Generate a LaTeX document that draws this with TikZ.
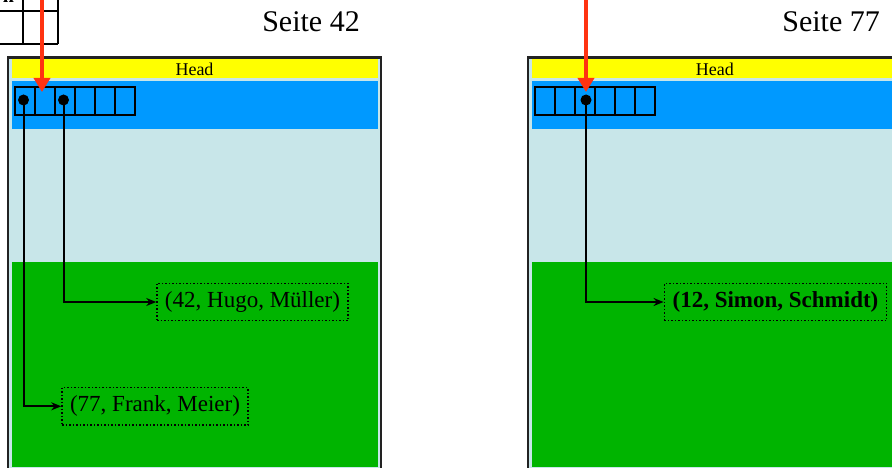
\documentclass[tikz,border=0pt]{standalone}
\usepackage{fontspec}
\setmainfont{Liberation Serif}
\usetikzlibrary{arrows.meta}
\definecolor{headyellow}{RGB}{255,255,0}
\definecolor{slotblue}{RGB}{0,153,255}
\definecolor{pagebg}{RGB}{200,230,233}
\definecolor{datagreen}{RGB}{0,180,0}
\definecolor{ptrred}{RGB}{255,51,17}
\definecolor{framegray}{RGB}{34,34,34}
\begin{document}
\begin{tikzpicture}[x=1pt,y=-1pt,
  pageframe/.style={fill=pagebg,draw=framegray,line width=2.2pt},
  slot/.style={draw=black,line width=2pt,minimum width=20pt,minimum height=28.6pt,inner sep=0,outer sep=0},
  dotn/.style={circle,fill=black,inner sep=0,minimum size=11pt},
  record/.style={draw=black,dotted,line width=1.5pt,inner sep=0,minimum height=37.4pt,font=\fontsize{23}{27}\selectfont},
  ptr/.style={line width=2pt,-{Stealth[length=10pt,width=8pt]}},
  redptr/.style={draw=ptrred,line width=3.6pt,-{Triangle[length=14pt,width=16pt]}},
  title/.style={font=\fontsize{30}{36}\selectfont,anchor=base east,inner sep=0},
  headlbl/.style={font=\fontsize{18}{22}\selectfont,anchor=base,inner sep=0},
  tabline/.style={line width=2pt,draw=black}
]
\useasboundingbox (0,0) rectangle (892,468);
\clip (0,0) rectangle (892,468);

% top-left table fragment
\node[font=\fontsize{20}{24}\selectfont\bfseries,anchor=base,inner sep=0] (frag) at (8.5,3) {n};
\draw[tabline] (-5,11) -- (58,11);
\draw[tabline] (-5,44.5) -- (58,44.5);
\draw[tabline] (23,-5) -- (23,44.5);
\draw[tabline] (58,-5) -- (58,44.5);

% titles
\node[title] (tL) at (360,32) {Seite 42};
\node[title] (tR) at (880,32) {Seite 77};

% pages
\foreach \p/\dx in {L/0,R/520.3}{
  \begin{scope}[xshift=\dx]
    \filldraw[pageframe] (8,57.5) rectangle (380.7,480);
    \fill[headyellow] (11.5,58.6) rectangle (377.7,77.7);
    \fill[slotblue] (11.5,81) rectangle (377.7,129.3);
    \fill[datagreen] (11.5,262) rectangle (377.7,466.7);
    \node[headlbl] (head\p) at (194.5,76) {Head};
    \foreach \i in {1,...,6}
      \node[slot] (s\p\i) at ({14.7+20*(\i-0.5)},101) {};
  \end{scope}
}

% slot pointers
\node[dotn] (dL1) at (23.5,100) {};
\node[dotn] (dL3) at (63.5,100) {};
\node[dotn] (dR3) at (586,100) {};

% records
\node[record,minimum width=191pt] (r42) at (252.5,302) {(42, Hugo, Müller)};
\node[record,minimum width=186pt] (r77) at (155,406.3) {(77, Frank, Meier)};
\node[record,minimum width=222.4pt] (r12) at (775.5,302) {\bfseries (12, Simon, Schmidt)};

\draw[ptr] (dL1.center) |- (r77.west);
\draw[ptr] (dL3.center) |- (r42.west);
\draw[ptr] (dR3.center) |- (r12.west);

% red pointers
\coordinate (inL) at (42,-3);
\coordinate (tipL) at (42,92);
\coordinate (inR) at (586,-3);
\coordinate (tipR) at (586,92);
\draw[redptr] (inL) -- (tipL);
\draw[redptr] (inR) -- (tipR);
\end{tikzpicture}
\end{document}
